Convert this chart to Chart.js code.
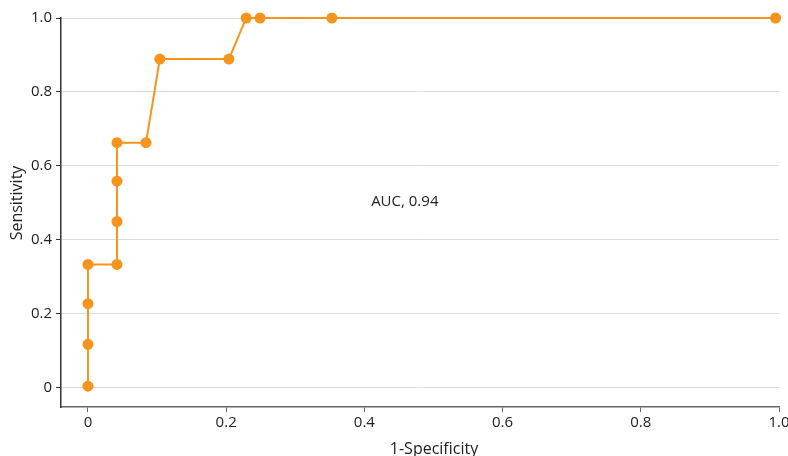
<!DOCTYPE html>
<html>
<head>
<meta charset="utf-8">
<script src="https://cdn.jsdelivr.net/npm/chart.js@4"></script>
<style>
  html, body { margin: 0; padding: 0; background: #fff; }
  #wrap { width: 788px; height: 456px; position: relative; }
</style>
</head>
<body>
<div id="wrap"><canvas id="roc"></canvas></div>
<script>
// ROC curve
const fpr = [0, 0, 0, 0, 0.042, 0.042, 0.042, 0.042, 0.084, 0.104, 0.204, 0.229, 0.249, 0.353, 0.995];
const tpr = [0.005, 0.118, 0.228, 0.334, 0.334, 0.45, 0.559, 0.663, 0.663, 0.889, 0.889, 1.0, 1.0, 1.0, 1.0];
const xTicks = [0, 0.2, 0.4, 0.6, 0.8, 1.0];
const xTickLabels = ['0', '0.2', '0.4', '0.6', '0.8', '1.0'];
const yTicks = [0, 0.2, 0.4, 0.6, 0.8, 1.0];
const yTickLabels = ['0', '0.2', '0.4', '0.6', '0.8', '1.0'];
const aucLabel = 'AUC, 0.94';
const aucPos = { x: 0.4585, y: 0.503 };

const orange = '#f7941d';
const font = "'Open Sans', 'Noto Sans', sans-serif";

const textPlugin = {
  id: 'texts',
  afterDraw(chart) {
    const c = chart.ctx;
    const xs = chart.scales.x, ys = chart.scales.y;
    c.save();
    c.fillStyle = '#222';
    c.font = `15px ${font}`;
    c.textAlign = 'center';
    c.textBaseline = 'middle';
    c.fillText(aucLabel, xs.getPixelForValue(aucPos.x), ys.getPixelForValue(aucPos.y));
    // axis titles
    c.font = `16px ${font}`;
    c.fillText('1-Specificity', 434, 449);
    c.translate(17, 203);
    c.rotate(-Math.PI / 2);
    c.fillText('Sensitivity', 0, 0);
    c.restore();
  }
};

new Chart(document.getElementById('roc'), {
  type: 'line',
  data: {
    datasets: [{
      data: fpr.map((x, i) => ({ x, y: tpr[i] })),
      borderColor: orange,
      backgroundColor: orange,
      borderWidth: 2,
      pointRadius: 5.5,
      pointHoverRadius: 5.5,
      pointBorderWidth: 0,
      tension: 0,
      clip: false,
    }],
  },
  options: {
    responsive: true,
    maintainAspectRatio: false,
    animation: false,
    layout: { padding: { top: 18, right: 9, left: 0, bottom: 0 } },
    plugins: { legend: { display: false }, tooltip: { enabled: false } },
    scales: {
      x: {
        type: 'linear',
        min: -0.039,
        max: 1.0,
        afterBuildTicks: (s) => { s.ticks = xTicks.map(v => ({ value: v })); },
        afterFit: (s) => { s.height = 49; s.paddingRight = 0; s.paddingLeft = 0; },
        ticks: {
          color: '#222',
          font: { family: font, size: 15 },
          padding: 2,
          maxRotation: 0,
          callback: (v) => xTickLabels[xTicks.indexOf(v)],
        },
        grid: { drawOnChartArea: false, tickLength: 5, tickColor: '#666', tickWidth: 1 },
        border: { color: '#666', width: 1.5 },
      },
      y: {
        min: -0.0514,
        max: 1.0,
        afterBuildTicks: (s) => { s.ticks = yTicks.map(v => ({ value: v })); },
        afterFit: (s) => { s.width = 61; s.paddingTop = 0; s.paddingBottom = 0; },
        ticks: {
          color: '#222',
          font: { family: font, size: 15 },
          padding: 4,
          callback: (v) => yTickLabels[yTicks.indexOf(v)],
        },
        grid: { color: '#dcdcdc', lineWidth: 1, tickLength: 5, tickColor: '#333' },
        border: { color: '#333', width: 1.5 },
      },
    },
  },
  plugins: [textPlugin],
});
</script>
</body>
</html>
